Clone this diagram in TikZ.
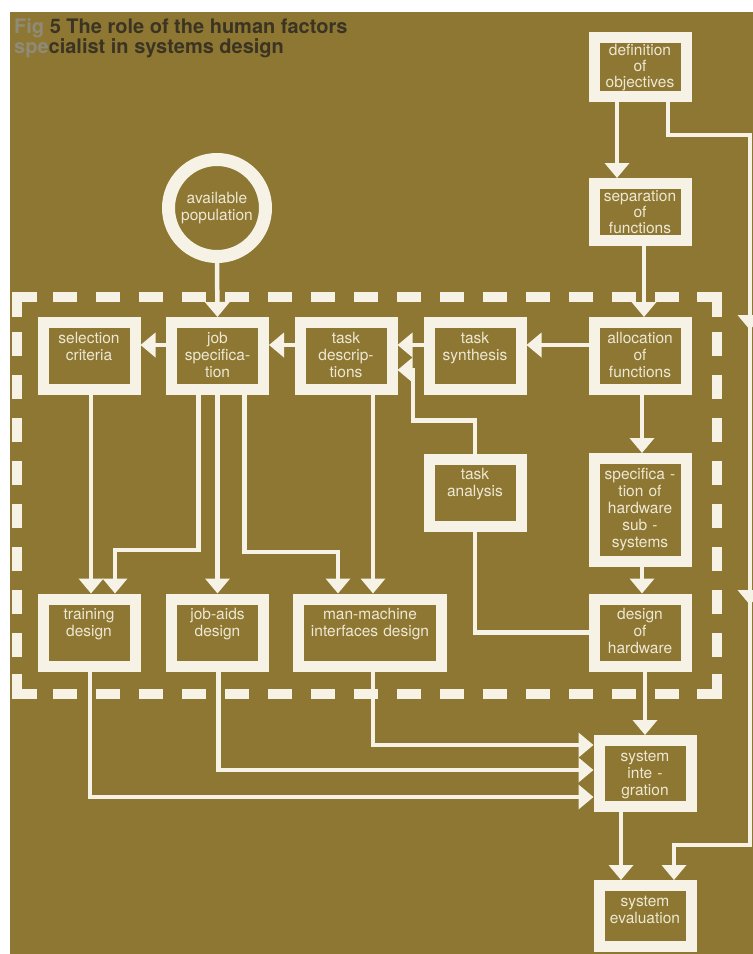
\documentclass[tikz,border=0pt]{standalone}
\usepackage{fontspec}
\setmainfont{TeX Gyre Heros}
\usepackage{tikz}
\usetikzlibrary{arrows.meta, positioning, decorations.markings}
\definecolor{pagebg}{HTML}{8D7733}
\definecolor{chalk}{HTML}{F6F3E6}
\definecolor{boxtext}{HTML}{EEE8D2}
\definecolor{titleink}{HTML}{3B3423}
\definecolor{titlefade}{HTML}{8F8B78}

\begin{document}
\begin{tikzpicture}[x=1pt, y=-1pt,
    >={Triangle[width=24pt, length=15pt]},
    stage/.style={draw=chalk, line width=11pt, fill=pagebg, text=boxtext,
                  text width=88pt, inner sep=2pt, align=center,
                  text height=18.5pt, text depth=44.5pt,
                  font=\fontsize{15.5}{17}\selectfont},
    tight/.style={text height=15.5pt, font=\fontsize{15.5}{16}\selectfont},
    flow/.style={draw=chalk, line width=4.5pt},
    frame/.style={draw=chalk, line width=10pt},
    framedash/.style={frame, dash pattern=on 24pt off 19pt}]
    \useasboundingbox (0,0) rectangle (753,954);
    \fill[white] (0,0) rectangle (753,954);
    \fill[pagebg] (10,12) rectangle (753,954);

    \node[anchor=north west, inner sep=0pt, align=left, text=titleink,
          font=\fontsize{20}{18}\selectfont\bfseries] (title) at (14,18)
      {{\color{titlefade}Fig} 5 The role of the human factors\\{\color{titlefade}spe}cialist in systems design};

    % dashed boundary
    \draw[framedash] (53,297) -- (679,297);
    \draw[framedash] (53,694) -- (679,694);
    \draw[framedash] (17,332) -- (17,657);
    \draw[framedash] (717,332) -- (717,657);
    \draw[frame] (37,297) -- (17,297) -- (17,317);
    \draw[frame] (697,297) -- (717,297) -- (717,317);
    \draw[frame] (17,674) -- (17,694) -- (37,694);
    \draw[frame] (717,674) -- (717,694) -- (697,694);

    \node[circle, draw=chalk, line width=13pt, fill=pagebg, text=boxtext,
          minimum size=97pt, align=center, font=\fontsize{15.5}{17}\selectfont]
      (avpop) at (217,208) {available\\population};

    \node[stage, tight, text depth=39.5pt] (defobj) at (640,67) {definition\\of\\objectives};
    \node[stage, tight, text depth=37.5pt] (sepfn) at (640,212) {separation\\of\\functions};
    \node[stage] (allocfn) at (640,356) {allocation\\of\\functions};
    \node[stage] (tsynth) at (475,356) {task\\synthesis};
    \node[stage] (tdesc) at (346,356) {task\\descrip-\\tions};
    \node[stage] (jspec) at (217.5,356) {job\\specifica-\\tion};
    \node[stage] (selcrit) at (89,356) {selection\\criteria};
    \node[stage] (tanal) at (475,492.5) {task\\analysis};
    \node[stage, text depth=80.5pt] (hwspec) at (640,510) {specifica -\\tion of\\hardware\\sub -\\systems};
    \node[stage] (hwdes) at (640,632.5) {design\\of\\hardware};
    \node[stage] (train) at (89,632.5) {training\\design};
    \node[stage] (jaids) at (217.5,632.5) {job-aids\\design};
    \node[stage, text width=139pt] (mmi) at (370,632.5) {man-machine\\interfaces design};
    \node[stage, text depth=43.5pt] (sysint) at (645,773.5) {system\\inte -\\gration};
    \node[stage, text depth=38.5pt] (syseval) at (645,916) {system\\evaluation};

    % connectors
    \draw[flow, ->] ([xshift=-23pt]defobj.south) -- ([xshift=-23pt]sepfn.north);
    \draw[flow, ->] ([xshift=4pt]sepfn.south) -- ([xshift=4pt]allocfn.north);
    \draw[flow, ->, postaction={decorate},
          decoration={markings,
            mark=at position 310pt with {\arrow{>}},
            mark=at position 585pt with {\arrow{>}}}]
      ([xshift=28pt]defobj.south) -- ++(0,33) -- ++(82,0) -- ++(0,710)
      -| ([xshift=29pt]syseval.north);
    \draw[flow, ->] (avpop.south) -- (jspec.north);
    \draw[flow, ->] ([yshift=11pt]allocfn.west) -- ([yshift=11pt]tsynth.east);
    \draw[flow, ->] ([yshift=11pt]tsynth.west) -- ([yshift=11pt]tdesc.east);
    \draw[flow, ->] ([yshift=11pt]tdesc.west) -- ([yshift=11pt]jspec.east);
    \draw[flow, ->] ([yshift=11pt]jspec.west) -- ([yshift=11pt]selcrit.east);
    \draw[flow, ->] (tanal.north) -- ++(0,-33) -- ++(-62,0) |- ([yshift=-14pt]tdesc.east);
    \draw[flow] (tanal.south) |- (hwdes.west);
    \draw[flow, ->] ([xshift=2pt]allocfn.south) -- ([xshift=2pt]hwspec.north);
    \draw[flow, ->] ([xshift=2pt]hwspec.south) -- ([xshift=2pt]hwdes.north);
    \draw[flow, ->] ([xshift=5pt]hwdes.south) -- (sysint.north);
    \draw[flow, ->] ([xshift=2pt]selcrit.south) -- ([xshift=2pt]train.north);
    \draw[flow, ->] ([xshift=-19pt]jspec.south) -- ++(0,155) -| ([xshift=26pt]train.north);
    \draw[flow, ->] (jspec.south) -- (jaids.north);
    \draw[flow, ->] ([xshift=27pt]jspec.south) -- ++(0,157) -| ([xshift=-32pt]mmi.north);
    \draw[flow, ->] ([xshift=27pt]tdesc.south) -- ([xshift=3pt]mmi.north);
    \draw[flow, ->] ([xshift=3pt]mmi.south) |- ([yshift=28.5pt]sysint.west);
    \draw[flow, ->] ([xshift=1pt]jaids.south) |- ([yshift=3.5pt]sysint.west);
    \draw[flow, ->] ([xshift=1pt]train.south) |- ([yshift=-23.5pt]sysint.west);
    \draw[flow, ->] ([xshift=-24pt]sysint.south) -- ([xshift=-24pt]syseval.north);
\end{tikzpicture}
\end{document}
